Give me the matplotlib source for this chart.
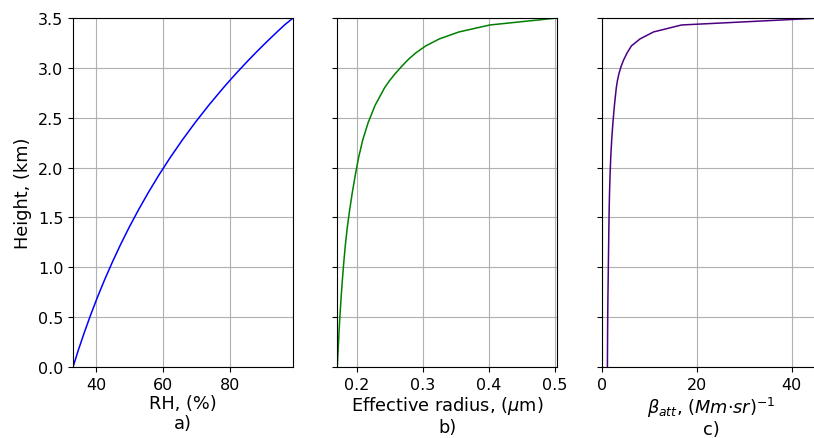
import matplotlib
matplotlib.use("Agg")
import matplotlib.pyplot as plt

heights = [0.0, 0.175, 0.35, 0.525, 0.7, 0.875, 1.05, 1.225, 1.4, 1.575, 1.75,
           1.925, 2.1, 2.275, 2.45, 2.625, 2.8, 2.87, 2.94, 3.01, 3.08, 3.15,
           3.22, 3.29, 3.36, 3.43, 3.5]

rh = [33.1, 34.75, 36.52, 38.40, 40.40, 42.54, 44.83, 47.26, 49.86, 52.64, 55.60,
      58.75, 62.12, 65.72, 69.55, 73.64, 78.0, 79.83, 81.70, 83.63, 85.60, 87.62,
      89.70, 91.84, 94.03, 96.27, 98.8]

reff = [0.1708, 0.1721, 0.1734, 0.1749, 0.1766, 0.1785, 0.1806, 0.1830, 0.1859,
        0.1895, 0.1935, 0.1980, 0.2030, 0.2092, 0.2174, 0.2280, 0.2423, 0.2496,
        0.2581, 0.2675, 0.2775, 0.2895, 0.3045, 0.3250, 0.3547, 0.4015, 0.5035]

batt = [1.20, 1.22, 1.24, 1.27, 1.31, 1.36, 1.41, 1.46, 1.51, 1.57, 1.65, 1.76,
        1.90, 2.10, 2.36, 2.68, 3.07, 3.30, 3.62, 4.05, 4.62, 5.35, 6.25, 8.06,
        10.9, 16.8, 46.3]

yticks = [0.0, 0.5, 1.0, 1.5, 2.0, 2.5, 3.0, 3.5]
xticks_a = [40, 60, 80]
xticks_b = [0.2, 0.3, 0.4, 0.5]
xticks_c = [0, 20, 40]

W, H = 814, 439
fig = plt.figure(figsize=(W / 100, H / 100), dpi=100)
fs_tick = 11.5
fs_lab = 12.8

def add(left):
    return fig.add_axes([left / W, (H - 368) / H, 220 / W, 349 / H])

ax1 = add(73)
ax2 = add(337.3)
ax3 = add(601.7)

series = [
    (ax1, rh, "blue", xticks_a, "RH, (%)\na)"),
    (ax2, reff, "green", xticks_b, "Effective radius, ($\\mu$m)\nb)"),
    (ax3, batt, "indigo", xticks_c, "$\\beta_{att}$, $(Mm{\\cdot}sr)^{-1}$\nc)"),
]

for i, (ax, xs, col, xt, lab) in enumerate(series):
    ax.plot(xs, heights, color=col, lw=1.1)
    ax.set_xlim(min(xs), max(xs))
    ax.set_ylim(0, 3.5)
    ax.set_yticks(yticks)
    ax.set_xticks(xt)
    ax.grid(True, color="#b0b0b0", lw=0.8)
    ax.set_axisbelow(True)
    ax.tick_params(labelsize=fs_tick)
    ax.set_xlabel(lab, fontsize=fs_lab, linespacing=1.1, labelpad=2)
    if i > 0:
        ax.tick_params(labelleft=False)

ax3.set_xlim(0, max(batt))
ax1.set_ylabel("Height, (km)", fontsize=fs_lab)

fig.savefig("out.png", dpi=100)
